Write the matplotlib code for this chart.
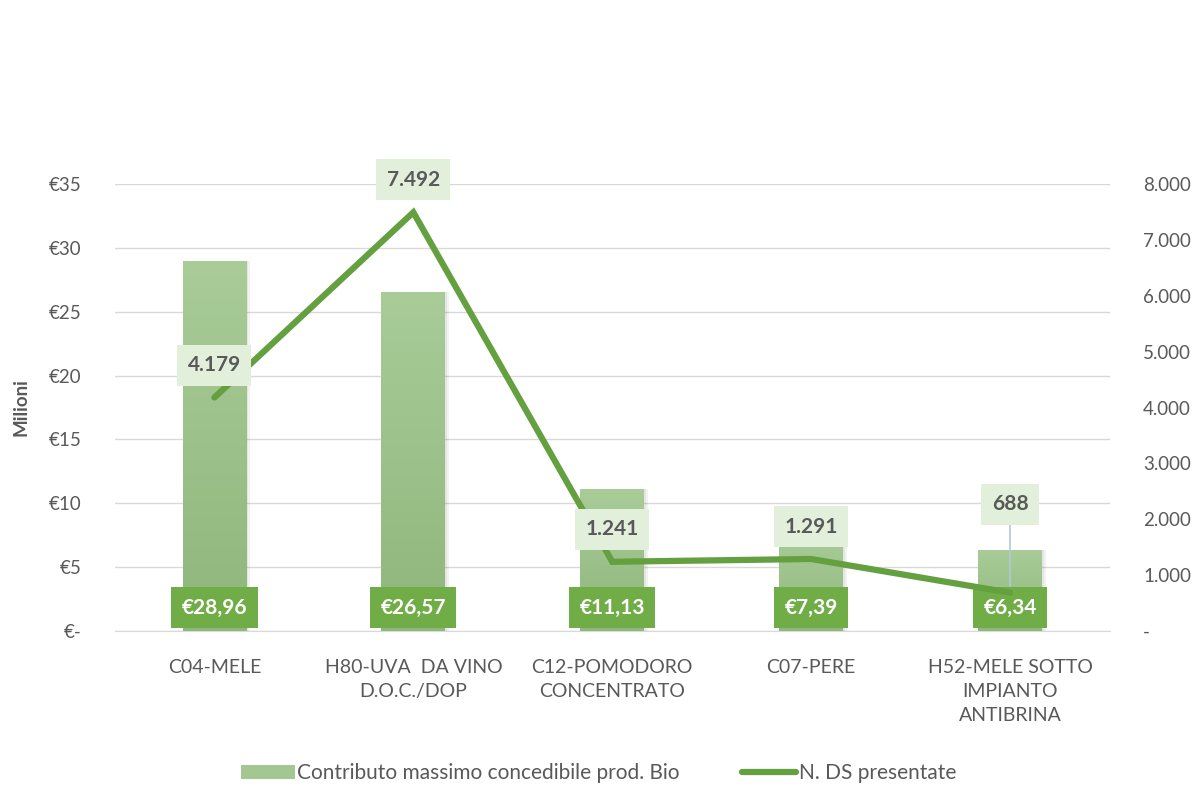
import matplotlib.pyplot as plt
import numpy as np
from matplotlib.patches import Rectangle

plt.rcParams['font.family'] = ['Lato', 'DejaVu Sans']

# Dati
categorie = ["C04-MELE", "H80-UVA  DA VINO\nD.O.C./DOP", "C12-POMODORO\nCONCENTRATO",
             "C07-PERE", "H52-MELE SOTTO\nIMPIANTO\nANTIBRINA"]
contributo = [28.96, 26.57, 11.13, 7.39, 6.34]      # milioni di euro
n_ds = [4179, 7492, 1241, 1291, 688]
etichette_contributo = ["€28,96", "€26,57", "€11,13", "€7,39", "€6,34"]
etichette_ds = ["4.179", "7.492", "1.241", "1.291", "688"]
tick_sx = [0, 5, 10, 15, 20, 25, 30, 35]
tick_sx_lab = ["€-", "€5", "€10", "€15", "€20", "€25", "€30", "€35"]
tick_dx = [0, 1000, 2000, 3000, 4000, 5000, 6000, 7000, 8000]
tick_dx_lab = ["-", "1.000", "2.000", "3.000", "4.000", "5.000", "6.000", "7.000", "8.000"]

grigio = "#595959"
verde_linea = "#64a03f"
verde_box = "#70ad47"
verde_chiaro = "#e2efda"

fig = plt.figure(figsize=(11.97, 7.86), dpi=100)
ax = fig.add_axes([0.096, 0.197, 0.831, 0.569])
ax2 = ax.twinx()

x = np.arange(len(categorie))
larghezza = 0.32

# Ombre delle barre
for i, v in enumerate(contributo):
    ax.bar(x[i] + 0.02, v, width=larghezza, color="#000000", alpha=0.05, zorder=1)
    ax.bar(x[i] + 0.01, v, width=larghezza, color="#000000", alpha=0.05, zorder=1)

# Barre con sfumatura
barre = ax.bar(x, contributo, width=larghezza, color="none", zorder=2)
grad = np.linspace(0, 1, 256).reshape(-1, 1)
cmap = plt.matplotlib.colors.LinearSegmentedColormap.from_list("g", ["#8fb67c", "#a9cc98"])
for b in barre:
    img = ax.imshow(grad, extent=[b.get_x(), b.get_x() + b.get_width(), 0, b.get_height()],
                    origin="lower", aspect="auto", cmap=cmap, zorder=2)
    img.set_clip_path(b)

ax.set_xlim(-0.5, len(categorie) - 0.5)
ax.set_ylim(0, 35)
ax.set_yticks(tick_sx)
ax.set_yticklabels(tick_sx_lab)
ax.set_xticks(x)
ax.set_xticklabels(categorie, color=grigio, fontsize=14, linespacing=1.5)
ax.set_ylabel("Milioni", fontsize=13.5, fontweight="bold", color=grigio, labelpad=14)
ax.grid(axis="y", color="#d9d9d9", linewidth=1)
ax.set_axisbelow(True)
ax.tick_params(axis="y", colors=grigio, labelsize=13.5, length=0, pad=24)
ax.tick_params(axis="x", length=0, pad=20)
for s in ["top", "right", "left"]:
    ax.spines[s].set_visible(False)
ax.spines["bottom"].set_color("#d9d9d9")

# Linea
ax2.plot(x, n_ds, color=verde_linea, linewidth=4.5, solid_capstyle="round",
         solid_joinstyle="miter", zorder=3)
ax2.set_ylim(0, 8000)
ax2.set_yticks(tick_dx)
ax2.set_yticklabels(tick_dx_lab)
ax2.tick_params(axis="y", colors=grigio, labelsize=13.5, length=0, pad=24)
for s in ax2.spines.values():
    s.set_visible(False)

# Etichette contributo
for i, t in enumerate(etichette_contributo):
    ax.text(x[i], 1.85, t, ha="center", va="center", color="white", fontsize=15,
            fontweight="bold", zorder=6,
            bbox=dict(boxstyle="square,pad=0.5", fc=verde_box, ec="none"))

# Etichette DS
offset = [580, 580, 580, 580, 1580]
for i, t in enumerate(etichette_ds):
    yl = n_ds[i] + offset[i]
    if offset[i] > 600:
        ax2.plot([x[i], x[i]], [n_ds[i] + 120, yl], color="#b4c7dc", linewidth=1.2, zorder=7)
    ax2.text(x[i], yl, t, ha="center", va="center", color=grigio, fontsize=15,
             fontweight="bold", zorder=8,
             bbox=dict(boxstyle="square,pad=0.5", fc=verde_chiaro, ec="none"))

# Legenda
h1 = Rectangle((0, 0), 1, 1, fc="#a3c790", ec="none")
h2, = ax2.plot([], [], color=verde_linea, linewidth=4.5, solid_capstyle="round")
fig.legend([h1, h2], ["Contributo massimo concedibile prod. Bio", "N. DS presentate"],
           loc="center", bbox_to_anchor=(0.5, 0.016), ncol=2, frameon=False,
           fontsize=15, labelcolor=grigio, handlelength=2.6, handletextpad=0.1,
           columnspacing=3.0)

fig.savefig("out.png", dpi=100)
